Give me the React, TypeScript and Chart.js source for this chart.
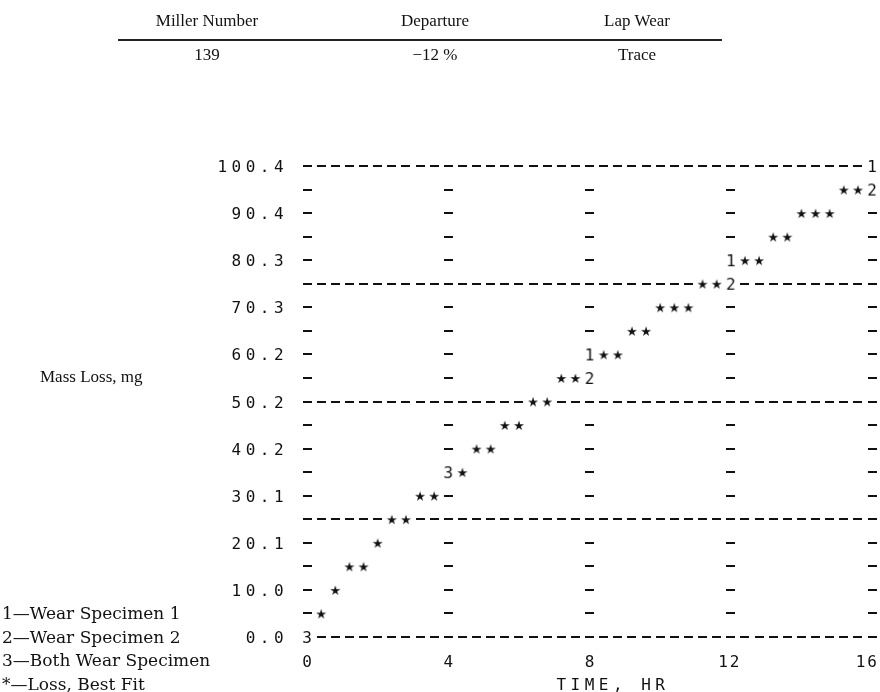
import { useEffect, useRef } from "react";
import { Chart, registerables } from "chart.js";

Chart.register(...registerables);

// Axis ticks: time in hours, mass loss in mg
const timeTicks = [0, 4, 8, 12, 16];
const timeTickLabels = ["0", "4", "8", "12", "16"];
const massTicks = [0, 10.04, 20.08, 30.12, 40.16, 50.2, 60.24, 70.28, 80.32, 90.36, 100.4];
const massTickLabels = ["0.0", "10.0", "20.1", "30.1", "40.2", "50.2", "60.2", "70.3", "80.3", "90.4", "100.4"];

// One print cell = 0.4 h wide and 5.02 mg tall
const TIME_STEP = 0.4;
const MASS_STEP = 5.02;
const RULED_EVERY = 5;

// Measured wear of each specimen
const specimen1Time = [8, 12, 16];
const specimen1Loss = [60.24, 80.32, 100.4];
const specimen2Time = [8, 12, 16];
const specimen2Loss = [55.22, 75.3, 95.38];
const bothTime = [0, 4];
const bothLoss = [0, 35.14];

// Best-fit mass loss curve
const fitTime = [
  0.4, 0.8, 1.2, 1.6, 2.0, 2.4, 2.8, 3.2, 3.6, 4.4, 4.8, 5.2, 5.6, 6.0, 6.4, 6.8, 7.2, 7.6,
  8.4, 8.8, 9.2, 9.6, 10.0, 10.4, 10.8, 11.2, 11.6, 12.4, 12.8, 13.2, 13.6, 14.0, 14.4, 14.8,
  15.2, 15.6,
];
const fitLoss = [
  5.02, 10.04, 15.06, 15.06, 20.08, 25.1, 25.1, 30.12, 30.12, 35.14, 40.16, 40.16, 45.18,
  45.18, 50.2, 50.2, 55.22, 55.22, 60.24, 60.24, 65.26, 65.26, 70.28, 70.28, 70.28, 75.3,
  75.3, 80.32, 80.32, 85.34, 85.34, 90.36, 90.36, 90.36, 95.38, 95.38,
];

const xAxisTitle = "TIME, HR";
const yAxisTitle = "Mass Loss, mg";
const legendLines = ["1\u2014Wear Specimen 1", "2\u2014Wear Specimen 2", "3\u2014Both Wear Specimen", "*\u2014Loss, Best Fit"];
const tableHead = ["Miller Number", "Departure", "Lap Wear"];
const tableRow = ["139", "\u221212 %", "Trace"];

const INK = "#111";
const MONO = "16px 'DejaVu Sans Mono', 'Liberation Mono', monospace";
const STAR = "13px 'DejaVu Sans', sans-serif";

function makeGlyph(ch: string, font: string): HTMLCanvasElement {
  const c = document.createElement("canvas");
  c.width = 18;
  c.height = 18;
  const g = c.getContext("2d")!;
  g.font = font;
  g.fillStyle = INK;
  g.textAlign = "center";
  g.textBaseline = "alphabetic";
  const m = g.measureText(ch);
  const asc = m.actualBoundingBoxAscent;
  const desc = m.actualBoundingBoxDescent;
  g.fillText(ch, 9, 9 + (asc - desc) / 2);
  return c;
}

const pts = (xs: number[], ys: number[]) => xs.map((x, i) => ({ x, y: ys[i] }));

// Line-printer style grid, scale labels and titles
const printerGrid = {
  id: "printerGrid",
  beforeDatasetsDraw(chart: any) {
    const { ctx } = chart;
    const x = chart.scales.x;
    const y = chart.scales.y;
    const occupied = new Set<string>();
    chart.data.datasets.forEach((ds: any) =>
      ds.data.forEach((p: any) =>
        occupied.add(`${Math.round(p.x / TIME_STEP)},${Math.round(p.y / MASS_STEP)}`)
      )
    );
    const cols = Math.round((x.max - x.min) / TIME_STEP);
    const rows = Math.round((y.max - y.min) / MASS_STEP);
    const tickCols = timeTicks.map((t) => Math.round(t / TIME_STEP));
    ctx.save();
    ctx.fillStyle = INK;
    for (let r = 0; r <= rows; r++) {
      const py = y.getPixelForValue(r * MASS_STEP);
      for (let c = 0; c <= cols; c++) {
        const ruled = r % RULED_EVERY === 0;
        if (!ruled && !tickCols.includes(c)) continue;
        if (occupied.has(`${c},${r}`)) continue;
        const px = x.getPixelForValue(c * TIME_STEP);
        ctx.fillRect(Math.round(px - 4.5), Math.round(py - 1), 9, 2);
      }
    }
    ctx.restore();
  },
  afterDraw(chart: any) {
    const { ctx } = chart;
    const x = chart.scales.x;
    const y = chart.scales.y;
    ctx.save();
    ctx.font = MONO;
    ctx.fillStyle = INK;
    ctx.textAlign = "center";
    ctx.textBaseline = "alphabetic";
    const half = ctx.measureText("0").actualBoundingBoxAscent / 2;
    const glyphW = ctx.measureText("0").width;
    const colX = (c: number) => x.getPixelForValue(c * TIME_STEP);
    // mass labels, right-aligned two cells left of the first column
    massTicks.forEach((v, i) => {
      const s = massTickLabels[i];
      const py = y.getPixelForValue(v) + half;
      for (let k = 0; k < s.length; k++) {
        ctx.fillText(s[k], colX(-2 - (s.length - 1 - k)), py);
      }
    });
    // time labels, one row below the base rule, kept inside the canvas
    const rowBelow = y.getPixelForValue(-MASS_STEP) + half;
    const pitch = 11.5;
    timeTicks.forEach((t, i) => {
      const s = timeTickLabels[i];
      const span = (s.length - 1) * pitch;
      let cx = x.getPixelForValue(t) - (s.length > 1 ? 2 : 0);
      cx = Math.min(cx, chart.width - 3 - glyphW / 2 - span / 2);
      for (let k = 0; k < s.length; k++) {
        ctx.fillText(s[k], cx - span / 2 + k * pitch, rowBelow);
      }
    });
    // axis title, two rows below the base rule
    const titleRow = y.getPixelForValue(-2 * MASS_STEP) + half;
    for (let k = 0; k < xAxisTitle.length; k++) {
      ctx.fillText(xAxisTitle[k], colX(18 + k), titleRow);
    }
    ctx.restore();
  },
};

export default function App() {
  const ref = useRef<HTMLCanvasElement>(null);

  useEffect(() => {
    const canvas = ref.current!;
    const common = { pointRadius: 4, clip: false as const, showLine: false };
    const chart = new Chart(canvas, {
      type: "scatter",
      data: {
        datasets: [
          { label: "Loss, Best Fit", data: pts(fitTime, fitLoss), pointStyle: makeGlyph("\u2605", STAR), ...common },
          { label: "Wear Specimen 1", data: pts(specimen1Time, specimen1Loss), pointStyle: makeGlyph("1", MONO), ...common },
          { label: "Wear Specimen 2", data: pts(specimen2Time, specimen2Loss), pointStyle: makeGlyph("2", MONO), ...common },
          { label: "Both Wear Specimen", data: pts(bothTime, bothLoss), pointStyle: makeGlyph("3", MONO), ...common },
        ],
      },
      options: {
        responsive: false,
        maintainAspectRatio: false,
        devicePixelRatio: 1,
        animation: false,
        events: [],
        layout: { padding: { left: 307, right: 8, top: 166, bottom: 55 } },
        scales: {
          x: { type: "linear", min: 0, max: 16, display: false },
          y: { type: "linear", min: 0, max: 100.4, display: false },
        },
        plugins: { legend: { display: false }, tooltip: { enabled: false } },
      },
      plugins: [printerGrid],
    } as any);
    return () => chart.destroy();
  }, []);

  const serif = "'Liberation Serif', 'Times New Roman', serif";
  const wide = "'DejaVu Serif', serif";
  const colCenters = [207, 435, 637];

  return (
    <div style={{ position: "absolute", left: 0, top: 0, width: 880, height: 692, background: "#fff", color: INK, overflow: "hidden" }}>
      <canvas ref={ref} width={880} height={692} style={{ position: "absolute", left: 0, top: 0, width: 880, height: 692 }} />
      {tableHead.map((t, i) => (
        <div key={"h" + i} style={{ position: "absolute", left: colCenters[i] - 100, width: 200, top: 11, lineHeight: "20px", textAlign: "center", fontFamily: serif, fontSize: 17 }}>{t}</div>
      ))}
      <div style={{ position: "absolute", left: 118, top: 39, width: 604, height: 2, background: "#222" }} />
      {tableRow.map((t, i) => (
        <div key={"r" + i} style={{ position: "absolute", left: colCenters[i] - 100, width: 200, top: 45, lineHeight: "20px", textAlign: "center", fontFamily: serif, fontSize: 17 }}>{t}</div>
      ))}
      <div style={{ position: "absolute", left: 40, top: 367, lineHeight: "20px", fontFamily: serif, fontSize: 17, whiteSpace: "nowrap" }}>{yAxisTitle}</div>
      {legendLines.map((t, i) => (
        <div key={"l" + i} style={{ position: "absolute", left: 2, top: 603 + i * 23.5, lineHeight: "20px", fontFamily: wide, fontSize: 17, whiteSpace: "nowrap" }}>{t}</div>
      ))}
    </div>
  );
}
